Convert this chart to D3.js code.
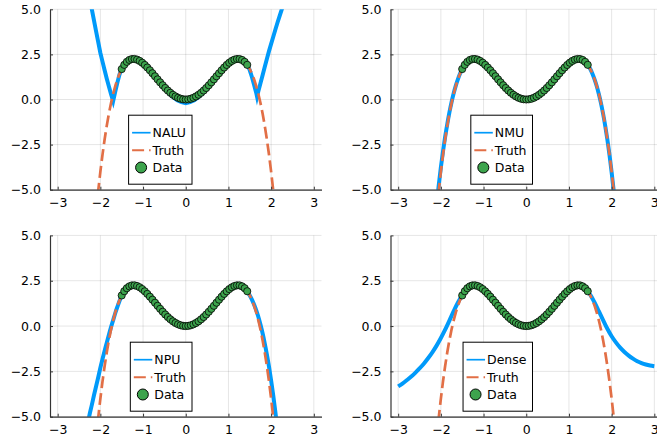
<!DOCTYPE html>
<html><head><meta charset="utf-8">
<script src="https://cdn.jsdelivr.net/npm/d3@7"></script>
<style>body{margin:0;background:#fff}svg{display:block}</style>
</head><body><svg id="c" width="657" height="442"></svg>
<script>
// ---------------- data ----------------
const xTicks = [-3, -2, -1, 0, 1, 2, 3];
const yTicks = [-5, -2.5, 0, 2.5, 5];
const yTickLabels = ["\u22125.0", "\u22122.5", "0.0", "2.5", "5.0"];
const xTickLabels = ["\u22123", "\u22122", "\u22121", "0", "1", "2", "3"];

const truthX = [-2.1,-2.05,-2,-1.95,-1.9,-1.85,-1.8,-1.75,-1.7,-1.65,-1.6,-1.55,-1.5,-1.45,-1.4,-1.35,-1.3,-1.25,-1.2,-1.15,-1.1,-1.05,-1,-0.95,-0.9,-0.85,-0.8,-0.75,-0.7,-0.65,-0.6,-0.55,-0.5,-0.45,-0.4,-0.35,-0.3,-0.25,-0.2,-0.15,-0.1,-0.05,0,0.05,0.1,0.15,0.2,0.25,0.3,0.35,0.4,0.45,0.5,0.55,0.6,0.65,0.7,0.75,0.8,0.85,0.9,0.95,1,1.05,1.1,1.15,1.2,1.25,1.3,1.35,1.4,1.45,1.5,1.55,1.6,1.65,1.7,1.75,1.8,1.85,1.9,1.95,2,2.05,2.1];
const truthY = [-6.218,-5.054,-4.0,-3.052,-2.202,-1.446,-0.778,-0.191,0.318,0.756,1.126,1.436,1.688,1.887,2.038,2.146,2.214,2.246,2.246,2.219,2.166,2.092,2.0,1.893,1.774,1.646,1.510,1.371,1.230,1.089,0.950,0.816,0.688,0.567,0.454,0.353,0.262,0.184,0.118,0.067,0.030,0.008,0,0.008,0.030,0.067,0.118,0.184,0.262,0.353,0.454,0.567,0.688,0.816,0.950,1.089,1.230,1.371,1.510,1.646,1.774,1.893,2.0,2.092,2.166,2.219,2.246,2.246,2.214,2.146,2.038,1.887,1.688,1.436,1.126,0.756,0.318,-0.191,-0.778,-1.446,-2.202,-3.052,-4.0,-5.054,-6.218];

const dataX = [-1.5,-1.44,-1.38,-1.32,-1.26,-1.2,-1.14,-1.08,-1.02,-0.96,-0.9,-0.84,-0.78,-0.72,-0.66,-0.6,-0.54,-0.48,-0.42,-0.36,-0.3,-0.24,-0.18,-0.12,-0.06,0,0.06,0.12,0.18,0.24,0.3,0.36,0.42,0.48,0.54,0.6,0.66,0.72,0.78,0.84,0.9,0.96,1.02,1.08,1.14,1.2,1.26,1.32,1.38,1.44];
const dataY = [1.688,1.921,2.087,2.191,2.242,2.246,2.210,2.139,2.039,1.916,1.774,1.619,1.455,1.287,1.117,0.950,0.790,0.638,0.498,0.372,0.262,0.170,0.096,0.043,0.011,0,0.011,0.043,0.096,0.170,0.262,0.372,0.498,0.638,0.790,0.950,1.117,1.287,1.455,1.619,1.774,1.916,2.039,2.139,2.210,2.246,2.242,2.191,2.087,1.921];

const naluX = [-2.3,-2.25,-2.2,-2.15,-2.1,-2.05,-2,-1.95,-1.9,-1.85,-1.8,-1.75,-1.7,-1.65,-1.6,-1.55,-1.5,-1.4,-1.3,-1.2,-1.1,-1,-0.9,-0.8,-0.7,-0.6,-0.5,-0.4,-0.3,-0.2,-0.1,0,0.1,0.2,0.3,0.4,0.5,0.6,0.7,0.8,0.9,1,1.1,1.2,1.3,1.4,1.45,1.5,1.55,1.6,1.65,1.67,1.7,1.75,1.8,1.85,1.9,1.95,2,2.05,2.1,2.15,2.2,2.25,2.3];
const naluY = [6.2,5.6,5.0,4.38,3.78,3.18,2.58,2.10,1.62,1.15,0.72,0.30,-0.08,0.45,0.95,1.40,1.69,2.04,2.21,2.25,2.17,2.00,1.77,1.50,1.20,0.90,0.62,0.36,0.14,-0.04,-0.15,-0.20,-0.15,-0.04,0.14,0.36,0.62,0.90,1.20,1.50,1.77,2.00,2.17,2.25,2.21,2.04,1.89,1.62,1.25,0.82,0.38,0.16,0.45,0.90,1.35,1.80,2.25,2.68,3.08,3.48,3.88,4.27,4.64,5.00,5.36];

const nmuX = [-2.15,-2.1,-2.05,-2,-1.95,-1.9,-1.85,-1.8,-1.75,-1.7,-1.65,-1.6,-1.55,-1.5,-1.4,-1.3,-1.2,-1.1,-1,-0.9,-0.8,-0.7,-0.6,-0.5,-0.4,-0.3,-0.2,-0.1,0,0.1,0.2,0.3,0.4,0.5,0.6,0.7,0.8,0.9,1,1.1,1.2,1.3,1.4,1.45,1.5,1.55,1.6,1.65,1.7,1.75,1.8,1.85,1.9,1.95,2,2.05,2.1,2.15];
const nmuY = [-7.1,-5.85,-4.75,-3.75,-2.87,-2.07,-1.36,-0.72,-0.15,0.34,0.77,1.13,1.44,1.69,2.038,2.214,2.246,2.166,2.0,1.774,1.510,1.230,0.950,0.688,0.454,0.262,0.118,0.030,0,0.030,0.118,0.262,0.454,0.688,0.950,1.230,1.510,1.774,2.0,2.166,2.246,2.214,2.038,1.887,1.69,1.43,1.12,0.75,0.31,-0.20,-0.79,-1.46,-2.22,-3.07,-4.03,-5.09,-6.26,-7.55];

const npuX = [-2.35,-2.3,-2.25,-2.2,-2.15,-2.1,-2.05,-2,-1.95,-1.9,-1.85,-1.8,-1.75,-1.7,-1.65,-1.6,-1.55,-1.5,-1.4,-1.3,-1.2,-1.1,-1,-0.9,-0.8,-0.7,-0.6,-0.5,-0.4,-0.3,-0.2,-0.1,0,0.1,0.2,0.3,0.4,0.5,0.6,0.7,0.8,0.9,1,1.1,1.2,1.3,1.4,1.45,1.5,1.55,1.6,1.65,1.7,1.75,1.8,1.85,1.9,1.95,2,2.05,2.1,2.15];
const npuY = [-6.0,-5.40,-4.85,-4.35,-3.82,-3.32,-2.82,-2.30,-1.82,-1.36,-0.92,-0.48,-0.06,0.33,0.72,1.07,1.40,1.69,2.038,2.214,2.246,2.166,2.0,1.774,1.510,1.230,0.950,0.688,0.454,0.262,0.118,0.030,0,0.030,0.118,0.262,0.454,0.688,0.950,1.230,1.510,1.774,2.0,2.166,2.246,2.214,2.038,1.887,1.69,1.46,1.19,0.88,0.51,0.08,-0.40,-0.95,-1.56,-2.24,-3.00,-3.83,-4.75,-5.75];

const denseX = [-3,-2.9,-2.8,-2.7,-2.6,-2.5,-2.4,-2.3,-2.2,-2.1,-2,-1.9,-1.8,-1.7,-1.6,-1.5,-1.4,-1.3,-1.2,-1.1,-1,-0.9,-0.8,-0.7,-0.6,-0.5,-0.4,-0.3,-0.2,-0.1,0,0.1,0.2,0.3,0.4,0.5,0.6,0.7,0.8,0.9,1,1.1,1.2,1.3,1.4,1.45,1.5,1.6,1.7,1.8,1.9,2,2.1,2.2,2.3,2.4,2.5,2.6,2.7,2.8,2.9,3];
const denseY = [-3.33,-3.17,-2.99,-2.80,-2.58,-2.34,-2.08,-1.78,-1.45,-1.08,-0.66,-0.20,0.30,0.82,1.30,1.69,2.038,2.214,2.246,2.166,2.0,1.774,1.510,1.230,0.950,0.688,0.454,0.262,0.118,0.030,0,0.030,0.118,0.262,0.454,0.688,0.950,1.230,1.510,1.774,2.0,2.166,2.246,2.214,2.038,1.887,1.72,1.30,0.82,0.33,-0.15,-0.56,-0.90,-1.19,-1.43,-1.63,-1.80,-1.94,-2.04,-2.12,-2.18,-2.22];

const modelNames = ["NALU", "NMU", "NPU", "Dense"];
const truthName = "Truth";
const dataName = "Data";

// ---------------- drawing ----------------
const COL_MODEL = "#009AFA", COL_TRUTH = "#E26F46", COL_DATA = "#3DA44D";
const FONT = "DejaVu Sans, Verdana, sans-serif";
const FS = 12.5;

const panels = [
  {name: modelNames[0], xs: naluX, ys: naluY, curve: d3.curveLinear, left: 50, top: 9.3, h: 180.4},
  {name: modelNames[1], xs: nmuX, ys: nmuY, curve: d3.curveMonotoneX, left: 390.5, top: 9.3, h: 180.4},
  {name: modelNames[2], xs: npuX, ys: npuY, curve: d3.curveMonotoneX, left: 50, top: 235.4, h: 181.3},
  {name: modelNames[3], xs: denseX, ys: denseY, curve: d3.curveMonotoneX, left: 390.5, top: 235.4, h: 181.3}
];
const W = 271.5;

const svg = d3.select("#c");
svg.append("rect").attr("width", 657).attr("height", 442).attr("fill", "#fff");

panels.forEach((p, i) => {
  const g = svg.append("g").attr("transform", `translate(${p.left},${p.top})`);
  const x = d3.scaleLinear().domain([-3.18, 3.18]).range([0, W]);
  const y = d3.scaleLinear().domain([-5, 5]).range([p.h, 0]);

  // grid
  g.append("g").selectAll("line").data(xTicks).join("line")
    .attr("x1", d => x(d)).attr("x2", d => x(d)).attr("y1", 0).attr("y2", p.h)
    .attr("stroke", "#000").attr("stroke-opacity", 0.1).attr("stroke-width", 1);
  g.append("g").selectAll("line").data(yTicks).join("line")
    .attr("x1", 0).attr("x2", W).attr("y1", d => y(d)).attr("y2", d => y(d))
    .attr("stroke", "#000").attr("stroke-opacity", 0.1).attr("stroke-width", 1);

  const clipId = "clip" + i;
  g.append("clipPath").attr("id", clipId).append("rect")
    .attr("x", 0).attr("y", 0).attr("width", W).attr("height", p.h);
  const plot = g.append("g").attr("clip-path", `url(#${clipId})`);

  // model line
  const modelPts = p.xs.map((v, k) => [v, p.ys[k]]);
  plot.append("path").datum(modelPts)
    .attr("d", d3.line().x(d => x(d[0])).y(d => y(d[1])).curve(p.curve))
    .attr("fill", "none").attr("stroke", COL_MODEL).attr("stroke-width", 4)
    .attr("stroke-linejoin", "miter").attr("stroke-miterlimit", 10);

  // truth line
  const truthPts = truthX.map((v, k) => [v, truthY[k]]);
  plot.append("path").datum(truthPts)
    .attr("d", d3.line().x(d => x(d[0])).y(d => y(d[1])))
    .attr("fill", "none").attr("stroke", COL_TRUTH).attr("stroke-width", 2.7)
    .attr("stroke-dasharray", "12,5");

  // data points
  const dataPts = dataX.map((v, k) => [v, dataY[k]]);
  g.append("g").selectAll("circle").data(dataPts).join("circle")
    .attr("cx", d => x(d[0])).attr("cy", d => y(d[1])).attr("r", 3.6)
    .attr("fill", COL_DATA).attr("stroke", "#000").attr("stroke-width", 0.8);

  // axes
  const ax = g.append("g").attr("transform", `translate(0,${p.h})`)
    .call(d3.axisBottom(x).tickValues(xTicks).tickFormat((d, k) => xTickLabels[k])
      .tickSizeInner(-3).tickSizeOuter(0).tickPadding(8.5));
  const ay = g.append("g")
    .call(d3.axisLeft(y).tickValues(yTicks).tickFormat((d, k) => yTickLabels[k])
      .tickSizeInner(-3).tickSizeOuter(0).tickPadding(9));
  [ax, ay].forEach(a => {
    a.select(".domain").attr("stroke", "#333").attr("stroke-width", 1.2);
    a.selectAll(".tick line").attr("stroke", "#333").attr("stroke-width", 1);
    a.selectAll("text").attr("font-family", FONT).attr("font-size", FS).attr("fill", "#000");
  });

  // legend
  const lg = g.append("g");
  const names = [p.name, truthName, dataName];
  const texts = names.map(n => lg.append("text").text(n)
    .attr("font-family", FONT).attr("font-size", FS).attr("fill", "#000"));
  const tw = d3.max(texts, t => t.node().getComputedTextLength());
  const bw = tw + 30, bh = 69;
  const bx = 142 - bw, by = p.h - 5.5 - bh;
  lg.insert("rect", ":first-child").attr("x", bx).attr("y", by).attr("width", bw).attr("height", bh)
    .attr("fill", "#fff").attr("stroke", "#000").attr("stroke-width", 1);
  const rows = [17.5, 35, 52.3];
  texts.forEach((t, k) => t.attr("x", bx + 24).attr("y", by + rows[k] + 4.5));
  lg.append("line").attr("x1", bx + 3.5).attr("x2", bx + 22).attr("y1", by + rows[0]).attr("y2", by + rows[0])
    .attr("stroke", COL_MODEL).attr("stroke-width", 1.7);
  lg.append("line").attr("x1", bx + 3.5).attr("x2", bx + 22).attr("y1", by + rows[1]).attr("y2", by + rows[1])
    .attr("stroke", COL_TRUTH).attr("stroke-width", 2).attr("stroke-dasharray", "12,5");
  lg.append("circle").attr("cx", bx + 12.5).attr("cy", by + rows[2]).attr("r", 5.5)
    .attr("fill", COL_DATA).attr("stroke", "#000").attr("stroke-width", 1);
});
</script>
</body></html>
